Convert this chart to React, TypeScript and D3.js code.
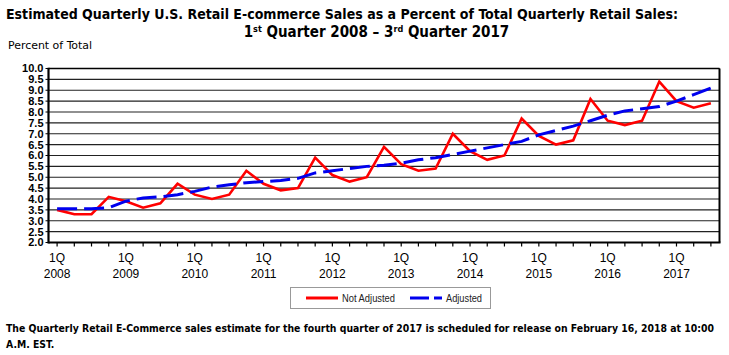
import React, { useMemo } from 'react';
import * as d3 from 'd3';

const years = ['2008', '2009', '2010', '2011', '2012', '2013', '2014', '2015', '2016', '2017'];
const quarterLabel = '1Q';

const notAdjusted = [
  3.5, 3.3, 3.3, 4.1,
  3.9, 3.6, 3.8, 4.7,
  4.2, 4.0, 4.2, 5.3,
  4.7, 4.4, 4.5, 5.9,
  5.1, 4.8, 5.0, 6.4,
  5.6, 5.3, 5.4, 7.0,
  6.2, 5.8, 6.0, 7.7,
  6.9, 6.5, 6.7, 8.6,
  7.6, 7.4, 7.6, 9.4,
  8.5, 8.2, 8.4,
];

const adjusted = [
  3.55, 3.55, 3.55, 3.6,
  3.9, 4.05, 4.1, 4.2,
  4.35, 4.55, 4.65, 4.75,
  4.8, 4.85, 4.95, 5.2,
  5.3, 5.4, 5.5, 5.55,
  5.65, 5.8, 5.9, 6.05,
  6.2, 6.35, 6.5, 6.65,
  6.95, 7.15, 7.35, 7.6,
  7.85, 8.05, 8.15, 8.25,
  8.5, 8.8, 9.1,
];

const yTicks = [2.0, 2.5, 3.0, 3.5, 4.0, 4.5, 5.0, 5.5, 6.0, 6.5, 7.0, 7.5, 8.0, 8.5, 9.0, 9.5, 10.0];

const titleLine1 = 'Estimated Quarterly U.S. Retail E-commerce Sales as a Percent of Total Quarterly Retail Sales:';
const yAxisTitle = 'Percent of Total';
const legendLabels = ['Not Adjusted', 'Adjusted'];
const footer1 = 'The Quarterly Retail E-Commerce sales estimate for the fourth quarter of 2017 is scheduled for release on February 16, 2018 at 10:00';
const footer2 = 'A.M. EST.';

const W = 729;
const H = 355;
const condensed = "'DejaVu Sans Condensed', 'DejaVu Sans', sans-serif";
const arial = "'Liberation Sans', Arial, sans-serif";

export default function App() {
  const n = notAdjusted.length;
  const x = d3.scaleLinear().domain([-0.5, n - 0.5]).range([48.5, 719.5]);
  const y = d3.scaleLinear().domain([2, 10]).range([242.5, 68.5]);
  const line = d3
    .line<number>()
    .x((_, i) => x(i))
    .y((d) => y(d));
  const x0 = x(-0.5);
  const x1 = x(n - 0.5);
  const yTop = y(10);
  const yBot = y(2);

  const footerWidth = 708;
  // pick a font size whose natural width fits the footer width
  const footerSize = useMemo(() => {
    let w = footer1.length * 6;
    try {
      const ctx = document.createElement('canvas').getContext('2d');
      if (ctx) {
        ctx.font = "bold 12px 'DejaVu Sans Condensed', 'DejaVu Sans', sans-serif";
        w = ctx.measureText(footer1).width / 12;
        w = w * 12;
      }
    } catch (e) {
      /* ignore */
    }
    const s = (12 * (footerWidth - 2)) / w;
    return Math.min(12.5, s);
  }, []);

  return (
    <svg
      width={W}
      height={H}
      style={{ position: 'absolute', left: 0, top: 0, background: '#fff' }}
    >
      <rect x={0} y={0} width={W} height={H} fill="#fff" />
      {/* Titles */}
      <text
        x={6}
        y={19}
        fontFamily={condensed}
        fontWeight="bold"
        fontSize={14.5}
        textLength={672}
        lengthAdjust="spacingAndGlyphs"
        fill="#000"
      >
        {titleLine1}
      </text>
      <text x={376.5} y={37} textAnchor="middle" fontFamily={condensed} fontWeight="bold" fontSize={15} fill="#000">
        1<tspan fontSize={9} dy={-5}>st</tspan>
        <tspan dy={5}> Quarter 2008 – 3</tspan>
        <tspan fontSize={9} dy={-5}>rd</tspan>
        <tspan dy={5}> Quarter 2017</tspan>
      </text>
      <text
        x={8}
        y={49}
        fontFamily={condensed}
        fontSize={11}
        textLength={84}
        lengthAdjust="spacingAndGlyphs"
        fill="#000"
      >
        {yAxisTitle}
      </text>

      {/* Gridlines */}
      {yTicks.map((t) => (
        <line key={'g' + t} x1={x0} x2={x1} y1={y(t)} y2={y(t)} stroke="#222" strokeWidth={1.2} />
      ))}
      {/* Y ticks and labels */}
      {yTicks.map((t) => (
        <g key={'yt' + t}>
          <line x1={x0 - 3} x2={x0} y1={y(t)} y2={y(t)} stroke="#000" strokeWidth={1} />
          <text
            x={43.5}
            y={y(t) + 3.9}
            textAnchor="end"
            fontFamily={arial}
            fontSize={11}
            fontWeight="bold"
            fill="#000"
          >
            {t.toFixed(1)}
          </text>
        </g>
      ))}
      {/* X ticks */}
      {d3.range(n).map((i) => (
        <line key={'xt' + i} x1={x(i)} x2={x(i)} y1={yBot} y2={yBot + 4} stroke="#000" strokeWidth={1.2} />
      ))}
      {years.map((yr, k) => (
        <g key={yr}>
          <text x={x(k * 4)} y={262} textAnchor="middle" fontFamily={arial} fontSize={12} fill="#000">
            {quarterLabel}
          </text>
          <text x={x(k * 4)} y={278} textAnchor="middle" fontFamily={arial} fontSize={12} fill="#000">
            {yr}
          </text>
        </g>
      ))}

      {/* Frame */}
      <line x1={x0} x2={x1} y1={yTop} y2={yTop} stroke="#000" strokeWidth={1.5} />
      <line x1={x1} x2={x1} y1={yTop} y2={yBot} stroke="#000" strokeWidth={2} />
      <line x1={x0} x2={x0} y1={yTop - 0.75} y2={yBot + 1} stroke="#000" strokeWidth={2.2} />
      <line x1={x0} x2={x1 + 1} y1={yBot} y2={yBot} stroke="#000" strokeWidth={2.2} />

      {/* Series */}
      <path d={line(notAdjusted) || ''} fill="none" stroke="#ff0000" strokeWidth={2.6} strokeLinejoin="miter" />
      <path d={line(adjusted) || ''} fill="none" stroke="#0000ee" strokeWidth={3} strokeDasharray="20 7" />

      {/* Legend */}
      <rect x={290.5} y={287.5} width={200} height={21} fill="#fff" stroke="#999" strokeWidth={1} />
      <line x1={306} x2={338} y1={298} y2={298} stroke="#ff0000" strokeWidth={3} />
      <text x={342} y={301.5} fontFamily={arial} fontSize={10} textLength={53} lengthAdjust="spacingAndGlyphs" fill="#222">
        {legendLabels[0]}
      </text>
      <line x1={410} x2={442} y1={298} y2={298} stroke="#0000ee" strokeWidth={3} strokeDasharray="19 5" />
      <text x={446} y={301.5} fontFamily={arial} fontSize={10} textLength={36} lengthAdjust="spacingAndGlyphs" fill="#222">
        {legendLabels[1]}
      </text>

      {/* Footer */}
      <text
        x={6}
        y={332}
        fontFamily={condensed}
        fontWeight="bold"
        fontSize={footerSize}
        textLength={footerWidth}
        lengthAdjust="spacingAndGlyphs"
        fill="#000"
      >
        {footer1}
      </text>
      <text x={6} y={348} fontFamily={condensed} fontWeight="bold" fontSize={footerSize} fill="#000">
        {footer2}
      </text>
    </svg>
  );
}
